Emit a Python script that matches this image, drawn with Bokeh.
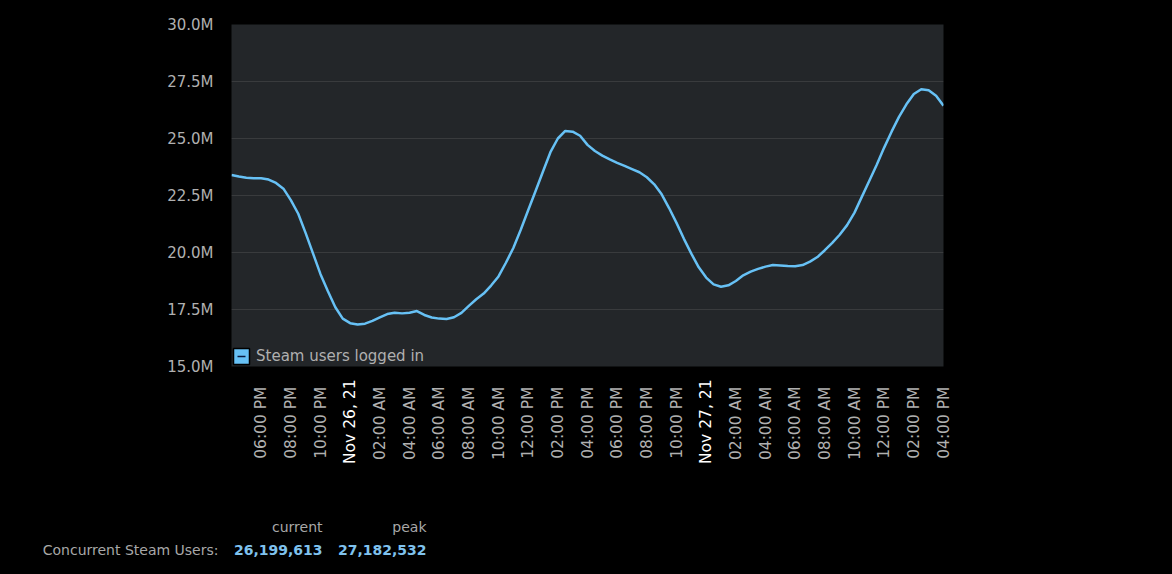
import math
from bokeh.plotting import figure
from bokeh.layouts import column
from bokeh.models import (Range1d, FixedTicker, PrintfTickFormatter, Legend, LegendItem,
                          Label, LinearAxis)
from bokeh.embed import file_html
from bokeh.resources import INLINE

# Concurrent Steam users (millions), sampled every 30 minutes from 04:00 PM Nov 25, 2021
users_m = [
    23.40, 23.33, 23.28, 23.26, 23.26, 23.20, 23.05, 22.80, 22.30, 21.70,
    20.85, 19.95, 19.05, 18.30, 17.60, 17.10, 16.90, 16.84, 16.88, 17.00,
    17.15, 17.30, 17.36, 17.33, 17.36, 17.43, 17.26, 17.15, 17.10, 17.08,
    17.16, 17.35, 17.66, 17.95, 18.20, 18.55, 18.95, 19.55, 20.20, 21.00,
    21.85, 22.70, 23.55, 24.40, 25.00, 25.33, 25.30, 25.12, 24.72, 24.45,
    24.25, 24.08, 23.93, 23.80, 23.66, 23.52, 23.30, 22.99, 22.55, 21.95,
    21.30, 20.60, 19.95, 19.35, 18.90, 18.60, 18.50, 18.56, 18.75, 19.00,
    19.16, 19.28, 19.38, 19.45, 19.43, 19.41, 19.40, 19.45, 19.60, 19.80,
    20.10, 20.42, 20.78, 21.20, 21.75, 22.45, 23.15, 23.85, 24.60, 25.30,
    25.95, 26.50, 26.95, 27.16, 27.12, 26.88, 26.44,
]
hours = [i * 0.5 for i in range(len(users_m))]  # hours since 04:00 PM Nov 25

tick_hours = [2, 4, 6, 8, 10, 12, 14, 16, 18, 20, 22, 24,
              26, 28, 30, 32, 34, 36, 38, 40, 42, 44, 46, 48]
tick_labels = ["06:00 PM", "08:00 PM", "10:00 PM", "Nov 26, 21", "02:00 AM", "04:00 AM",
               "06:00 AM", "08:00 AM", "10:00 AM", "12:00 PM", "02:00 PM", "04:00 PM",
               "06:00 PM", "08:00 PM", "10:00 PM", "Nov 27, 21", "02:00 AM", "04:00 AM",
               "06:00 AM", "08:00 AM", "10:00 AM", "12:00 PM", "02:00 PM", "04:00 PM"]
date_ticks = [h for h, t in zip(tick_hours, tick_labels) if t.startswith("Nov")]
time_ticks = [h for h, t in zip(tick_hours, tick_labels) if not t.startswith("Nov")]

y_ticks = [15.0, 17.5, 20.0, 22.5, 25.0, 27.5, 30.0]

series_label = "Steam users logged in"
stat_names = ["current", "peak"]
stat_values = ["26,199,613", "27,182,532"]
stat_row_label = "Concurrent Steam Users:"

FONT = "DejaVu Sans"
GRAY = "#b0b0b0"
BLUE = "#67c1f5"

W = 1164
H1 = 480
FRAME_L, FRAME_T, FRAME_R, FRAME_B = 231, 24, 943, 366
p = figure(width=W, height=H1, output_backend="svg", toolbar_location=None,
           x_range=Range1d(0, 48), y_range=Range1d(15, 30),
           x_axis_location=None,
           min_border_left=FRAME_L, min_border_right=W - FRAME_R,
           min_border_top=FRAME_T, min_border_bottom=H1 - FRAME_B)
p.border_fill_color = "#000000"
p.background_fill_color = "#232629"
p.outline_line_color = None

p.xgrid.grid_line_color = None
p.ygrid.grid_line_color = "#393b3d"
p.ygrid.grid_line_width = 1

# y axis
p.yaxis.ticker = FixedTicker(ticks=y_ticks)
p.yaxis.formatter = PrintfTickFormatter(format="%.1fM")
p.yaxis.axis_line_color = None
p.yaxis.major_tick_line_color = None
p.yaxis.minor_tick_line_color = None
p.yaxis.major_tick_out = 0
p.yaxis.minor_tick_out = 0
p.yaxis.major_label_text_font = FONT
p.yaxis.major_label_text_font_size = "15px"
p.yaxis.major_label_text_color = GRAY
p.yaxis.major_label_standoff = 18


def time_axis(ticks, color, standoff):
    ax = LinearAxis(ticker=FixedTicker(ticks=ticks),
                    major_label_overrides={h: t for h, t in zip(tick_hours, tick_labels) if h in ticks},
                    major_label_orientation=math.pi / 2,
                    axis_line_color=None, major_tick_line_color=None, minor_tick_line_color=None,
                    major_tick_out=0, minor_tick_out=0,
                    major_label_text_font=FONT, major_label_text_font_size="15.5px",
                    major_label_text_color=color, major_label_standoff=standoff)
    p.add_layout(ax, "below")
    return ax


time_axis(time_ticks, GRAY, 20)
time_axis(date_ticks, "#ffffff", -84)

line = p.line(hours, users_m, line_width=2.5, line_color=BLUE)

# legend swatch (square with dash)
sq = p.rect(x=[float("nan")], y=[float("nan")], width=1, height=1,
            fill_color=BLUE, line_color="#000000", line_width=1.5)
dash = p.scatter(x=[float("nan")], y=[float("nan")], marker="dash",
                 line_color="#0a1a40", line_width=1.5, size=6)
legend = Legend(items=[LegendItem(label=series_label, renderers=[sq, dash])],
                location="bottom_left", margin=0, padding=1, spacing=0,
                glyph_width=20, glyph_height=20, label_standoff=5,
                background_fill_alpha=0, border_line_color=None,
                label_text_font=FONT, label_text_font_size="15px", label_text_color=GRAY)
p.add_layout(legend, "center")

# stats block below the chart
H2 = 84
s = figure(width=W, height=H2, output_backend="svg", toolbar_location=None,
           x_range=Range1d(0, W), y_range=Range1d(0, H2),
           x_axis_location=None, y_axis_location=None,
           min_border=0, frame_align=False)
s.border_fill_color = "#000000"
s.background_fill_color = "#000000"
s.outline_line_color = None
s.xgrid.grid_line_color = None
s.ygrid.grid_line_color = None

col_right = [322, 426]
for cx, name, val in zip(col_right, stat_names, stat_values):
    s.add_layout(Label(x=cx, y=526 - H1, x_units="canvas", y_units="canvas", text=name,
                       text_align="right", text_baseline="middle",
                       text_font=FONT, text_font_size="14px", text_color="#a8a8a8"))
    s.add_layout(Label(x=cx, y=549 - H1, x_units="canvas", y_units="canvas", text=val,
                       text_align="right", text_baseline="middle", text_font_style="bold",
                       text_font=FONT, text_font_size="14px", text_color="#7fc2ee"))
s.add_layout(Label(x=218, y=549 - H1, x_units="canvas", y_units="canvas", text=stat_row_label,
                   text_align="right", text_baseline="middle",
                   text_font=FONT, text_font_size="14px", text_color="#a8a8a8"))

layout = column(p, s, spacing=0)
html = file_html(layout, INLINE)
html = html.replace("<body>", '<body style="background:#000000;">')
open("out.html", "w").write(html)
